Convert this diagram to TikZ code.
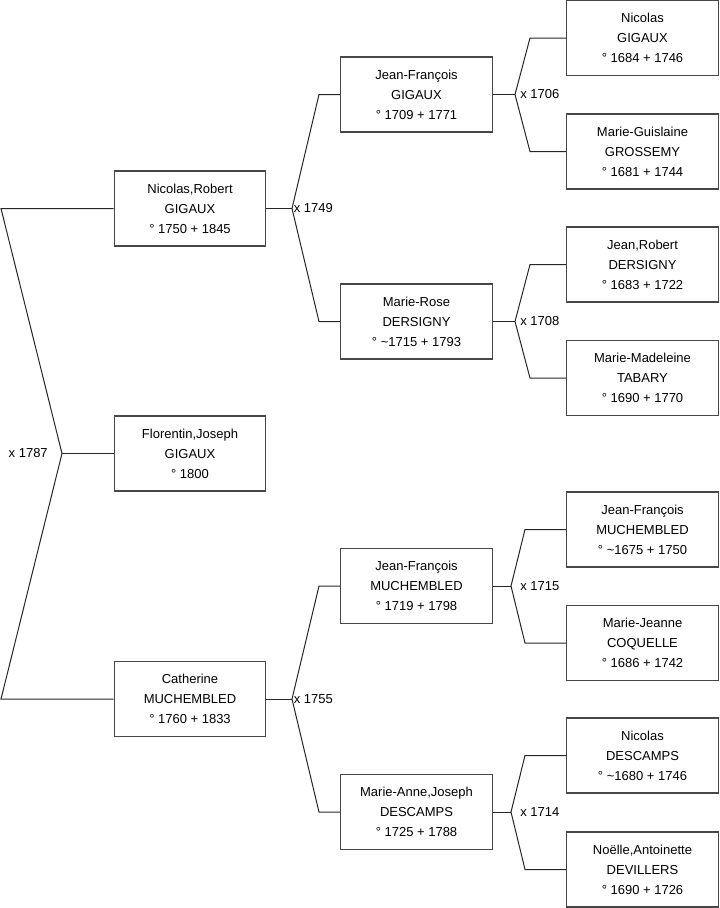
\documentclass[tikz,border=0pt]{standalone}
\usepackage{fontspec}
\setmainfont{Liberation Sans}
\begin{document}
\begin{tikzpicture}[x=0.75pt,y=-0.75pt,
  person/.style={draw=black!72,line width=0.9pt,rectangle,minimum width=113.5pt,minimum height=56.25pt,
    inner sep=0pt,align=center,font=\fontsize{9.75}{15}\selectfont,fill=white},
  link/.style={draw=black!85,line width=0.75pt},
  mariage/.style={font=\fontsize{9.75}{11}\selectfont,inner sep=0pt}]
\useasboundingbox (0,0) rectangle (719,908);
% level 1
\node[person] (nr) at (190,208.5) {Nicolas,Robert\\GIGAUX\\° 1750 + 1845};
\node[person] (fj) at (190,453.5) {Florentin,Joseph\\GIGAUX\\° 1800};
\node[person] (ca) at (190,699) {Catherine\\MUCHEMBLED\\° 1760 + 1833};
% level 2
\node[person] (jfg) at (416.5,94.5) {Jean-François\\GIGAUX\\° 1709 + 1771};
\node[person] (mr) at (416.5,321.5) {Marie-Rose\\DERSIGNY\\° \textasciitilde1715 + 1793};
\node[person] (jfm) at (416.5,586) {Jean-François\\MUCHEMBLED\\° 1719 + 1798};
\node[person] (maj) at (416.5,812) {Marie-Anne,Joseph\\DESCAMPS\\° 1725 + 1788};
% level 3
\node[person] (ng) at (642.5,38) {Nicolas\\GIGAUX\\° 1684 + 1746};
\node[person] (mg) at (642.5,151.5) {Marie-Guislaine\\GROSSEMY\\° 1681 + 1744};
\node[person] (jr) at (642.5,264.5) {Jean,Robert\\DERSIGNY\\° 1683 + 1722};
\node[person] (mm) at (642.5,378) {Marie-Madeleine\\TABARY\\° 1690 + 1770};
\node[person] (jf2) at (642.5,529.5) {Jean-François\\MUCHEMBLED\\° \textasciitilde1675 + 1750};
\node[person] (mj) at (642.5,643) {Marie-Jeanne\\COQUELLE\\° 1686 + 1742};
\node[person] (nd) at (642.5,755.5) {Nicolas\\DESCAMPS\\° \textasciitilde1680 + 1746};
\node[person] (na) at (642.5,869.5) {Noëlle,Antoinette\\DEVILLERS\\° 1690 + 1726};
% branch coordinates
\coordinate (b0) at (62,453.5);
\coordinate (t0) at (1,208.5);
\coordinate (u0) at (1,699);
\coordinate (b1) at (292,208.5);
\coordinate (t1) at (319,94.5);
\coordinate (u1) at (319,321.5);
\coordinate (b2) at (292,699);
\coordinate (t2) at (319,586);
\coordinate (u2) at (319,812);
\coordinate (b3) at (515,94.5);
\coordinate (t3) at (530,38);
\coordinate (u3) at (530,151.5);
\coordinate (b4) at (515,321.5);
\coordinate (t4) at (530,264.5);
\coordinate (u4) at (530,378);
\coordinate (b5) at (511,586);
\coordinate (t5) at (525,529.5);
\coordinate (u5) at (525,643);
\coordinate (b6) at (511,812);
\coordinate (t6) at (525,755.5);
\coordinate (u6) at (525,869.5);
% connectors
\draw[link] (nr.west) -- (t0) -- (b0) -- (u0) -- (ca.west);
\draw[link] (b0) -- (fj.west);
\draw[link] (nr.east) -- (b1);
\draw[link] (jfg.west) -- (t1) -- (b1) -- (u1) -- (mr.west);
\draw[link] (ca.east) -- (b2);
\draw[link] (jfm.west) -- (t2) -- (b2) -- (u2) -- (maj.west);
\draw[link] (jfg.east) -- (b3);
\draw[link] (ng.west) -- (t3) -- (b3) -- (u3) -- (mg.west);
\draw[link] (mr.east) -- (b4);
\draw[link] (jr.west) -- (t4) -- (b4) -- (u4) -- (mm.west);
\draw[link] (jfm.east) -- (b5);
\draw[link] (jf2.west) -- (t5) -- (b5) -- (u5) -- (mj.west);
\draw[link] (maj.east) -- (b6);
\draw[link] (nd.west) -- (t6) -- (b6) -- (u6) -- (na.west);
% marriage labels
\node[mariage,anchor=east] (m0) at (48,453.5) {x 1787};
\node[mariage,anchor=west] (m1) at (293.5,208.5) {x 1749};
\node[mariage,anchor=west] (m2) at (293.5,699) {x 1755};
\node[mariage,anchor=west] (m3) at (520,94.5) {x 1706};
\node[mariage,anchor=west] (m4) at (520,321.5) {x 1708};
\node[mariage,anchor=west] (m5) at (520,586) {x 1715};
\node[mariage,anchor=west] (m6) at (520,812) {x 1714};
\end{tikzpicture}
\end{document}
